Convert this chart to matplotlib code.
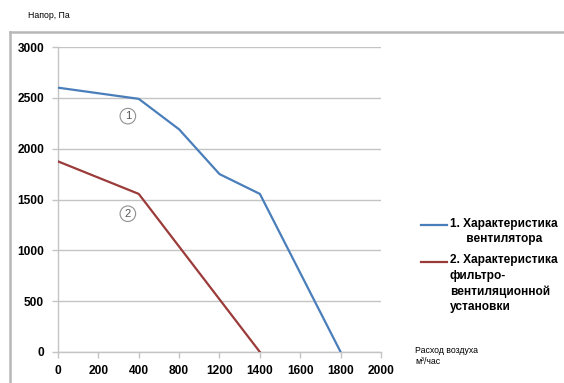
import matplotlib.pyplot as plt
from matplotlib.lines import Line2D

plt.rcParams['font.family'] = ['Liberation Sans', 'DejaVu Sans']

# category axis (equal spacing, like the original spreadsheet chart)
categories = ["0", "200", "400", "800", "1200", "1400", "1600", "1800", "2000"]

fan_cats = ["0", "400", "800", "1200", "1400", "1800"]
fan_vals = [2600, 2490, 2190, 1750, 1555, 0]

unit_cats = ["0", "400", "1400"]
unit_vals = [1875, 1555, 0]

y_ticks = [0, 500, 1000, 1500, 2000, 2500, 3000]

legend_labels = ["1. Характеристика\n     вентилятора",
                 "2. Характеристика\nфильтро-\nвентиляционной\nустановки"]

blue = "#4a7ebb"
red = "#9a3b3a"
grid_col = "#c4c4c4"

fig = plt.figure(figsize=(5.64, 3.83), dpi=100)
ax = fig.add_axes([58 / 564, 31 / 383, 323 / 564, 305 / 383])

fan_x = [categories.index(c) for c in fan_cats]
unit_x = [categories.index(c) for c in unit_cats]
ax.plot(fan_x, fan_vals, color=blue, lw=1.6, zorder=3)
ax.plot(unit_x, unit_vals, color=red, lw=1.6, zorder=3)

ax.set_xlim(0, len(categories) - 1)
ax.set_ylim(0, 3000)
ax.set_xticks(range(len(categories)))
ax.set_xticklabels(categories)
ax.set_yticks(y_ticks)
ax.yaxis.grid(True, color=grid_col, lw=1)
ax.set_axisbelow(True)
for s in ["top", "right"]:
    ax.spines[s].set_visible(False)
for s in ["left", "bottom"]:
    ax.spines[s].set_color(grid_col)
    ax.spines[s].set_linewidth(1)
ax.tick_params(axis="both", colors=grid_col, length=4, width=1,
               labelsize=8.6, labelcolor="black")
for lbl in ax.get_xticklabels() + ax.get_yticklabels():
    lbl.set_fontweight("bold")
ax.tick_params(axis="y", pad=6)
ax.tick_params(axis="x", pad=5)

# circled series numbers
for num, (xc, yc) in zip(["1", "2"], [(1.73, 2320), (1.73, 1360)]):
    ax.text(xc, yc, num, ha="center", va="center", fontsize=8, color="#555555",
            bbox=dict(boxstyle="circle,pad=0.25", fc="white", ec="#909090", lw=0.8))

# axis titles
fig.text(28 / 564, 1 - 16 / 383, "Напор, Па", fontsize=6.3, va="center")
fig.text(415 / 564, 1 - 356 / 383, "Расход воздуха\nм³/час", fontsize=6.3,
         va="center", linespacing=1.3)

# legend
legend_y = [225, 262]
for lab, col, ly in zip(legend_labels, [blue, red], legend_y):
    fig.add_artist(Line2D([421 / 564, 447 / 564], [1 - ly / 383, 1 - ly / 383],
                          color=col, lw=1.6))
    fig.text(450 / 564, 1 - (ly - 7.5) / 383, lab, fontsize=8.6, fontweight="bold",
             va="top", linespacing=1.38)

# outer chart frame (left and top edges only visible)
fig.add_artist(Line2D([10 / 564, 10 / 564], [0, 1 - 32 / 383], color="#b8b8b8", lw=1.8))
fig.add_artist(Line2D([10 / 564, 1], [1 - 32 / 383, 1 - 32 / 383], color="#b8b8b8", lw=1.8))

fig.savefig("out.png", dpi=100)
